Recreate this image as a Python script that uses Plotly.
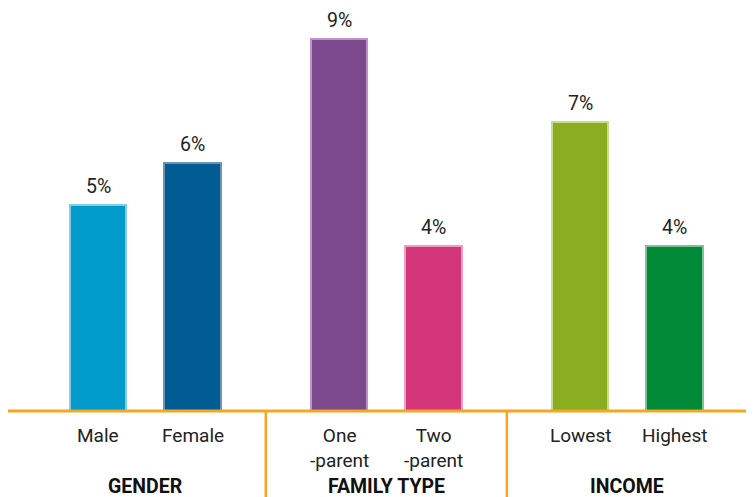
import plotly.graph_objects as go

groups = ["GENDER", "FAMILY TYPE", "INCOME"]
categories = ["Male", "Female", "One<br>-parent", "Two<br>-parent", "Lowest", "Highest"]
group_of = [0, 0, 1, 1, 2, 2]
values = [5, 6, 9, 4, 7, 4]
fill_colors = ["#009ACB", "#005C93", "#7B498C", "#D23679", "#8AAE20", "#008936"]
edge_colors = ["#86CDE8", "#6C93B9", "#B995C7", "#F19CC2", "#C7DC8C", "#7CC296"]

# page body has an 8px margin, so the figure is sized to fit inside the window
OFF = 8
W, H = 754 - OFF, 497 - OFF
unit = 94.5              # px per slot
left_px = 98.0 - OFF     # px of first bar centre
gap = 0.551              # extra slot gap between groups
px_per_val = 41.3
base_px = 411 - OFF

xpos = [i + gap * g for i, g in enumerate(group_of)]
xmin = -left_px / unit
xmax = (W - left_px) / unit
ymax = base_px / px_per_val

def xpaper(x):
    return (x - xmin) / (xmax - xmin)

def ypaper(py):
    return -(py - base_px) / base_px

fig = go.Figure()
fig.add_trace(go.Bar(
    x=xpos, y=values, width=0.6,
    marker=dict(color=fill_colors, line=dict(color=edge_colors, width=2)),
    hoverinfo="skip", showlegend=False,
))

font = "Roboto, Arial, sans-serif"
annotations = []
for x, v in zip(xpos, values):
    annotations.append(dict(x=x, y=v, xref="x", yref="y", text=f"{v}%",
                            showarrow=False, yanchor="bottom", yshift=5,
                            font=dict(family=font, size=19.5, color="#222222")))

# category labels
for x, lab in zip(xpos, categories):
    annotations.append(dict(x=x, xref="x", y=ypaper(415.5), yref="paper",
                            text=lab, showarrow=False, yanchor="top", borderpad=0,
                            font=dict(family=font, size=19, color="#222222")))

# group labels
for gi, name in enumerate(groups):
    xs = [xpos[i] for i in range(len(xpos)) if group_of[i] == gi]
    cx = sum(xs) / len(xs)
    annotations.append(dict(x=cx, xref="x", y=ypaper(478.5), yref="paper",
                            text=f"<b>{name}</b>", showarrow=False, yanchor="middle",
                            borderpad=0,
                            font=dict(family=font, size=19.5, color="#111111")))

shapes = [dict(type="line", xref="paper", yref="paper", x0=0, x1=1, y0=0, y1=0,
               line=dict(color="#F6A623", width=3))]
for gi in range(len(groups) - 1):
    last = max(xpos[i] for i in range(len(xpos)) if group_of[i] == gi)
    first = min(xpos[i] for i in range(len(xpos)) if group_of[i] == gi + 1)
    sx = (last + first) / 2
    shapes.append(dict(type="line", xref="paper", yref="paper", x0=xpaper(sx), x1=xpaper(sx),
                       y0=0, y1=ypaper(H),
                       line=dict(color="#F6A623", width=2.5)))

fig.update_layout(
    width=W, height=H,
    margin=dict(l=0, r=0, t=0, b=H - base_px),
    paper_bgcolor="white", plot_bgcolor="white",
    xaxis=dict(range=[xmin, xmax], showticklabels=False, ticks="",
               showgrid=False, zeroline=False, showline=False),
    yaxis=dict(range=[0, ymax], visible=False, showgrid=False, zeroline=False),
    annotations=annotations, shapes=shapes,
    bargap=0,
)

fig.write_html("out.html")
